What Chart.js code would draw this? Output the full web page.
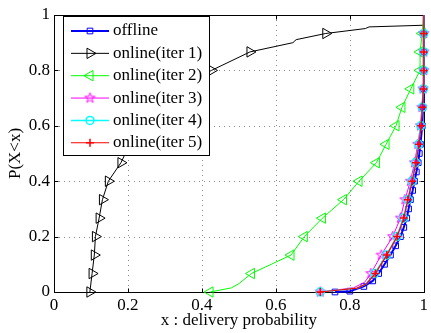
<!DOCTYPE html>
<html>
<head>
<meta charset="utf-8">
<style>
  html, body { margin: 0; padding: 0; background: #fff; }
</style>
<script src="https://cdn.jsdelivr.net/npm/chart.js@4.4.1/dist/chart.umd.min.js"></script>
</head>
<body>
<canvas id="cdfChart" width="431" height="333"></canvas>
<script>
// CDF of delivery probability, steps of 1/15 carry the markers
const offlineX = [0.76, 0.80, 0.838, 0.862, 0.878, 0.894, 0.91, 0.924, 0.937, 0.946, 0.954, 0.959, 0.964, 0.97, 0.975, 0.98, 0.985, 0.988, 0.991, 0.996, 0.998, 1, 1, 1, 1, 1];
const offlineY = [0, 0.003, 0.02, 0.04, 0.0667, 0.1, 0.1333, 0.1667, 0.2, 0.2333, 0.2667, 0.3, 0.3333, 0.3667, 0.4, 0.4333, 0.4667, 0.5, 0.5333, 0.6, 0.6667, 0.7333, 0.8, 0.8667, 0.9333, 1];

const iter1X = [0.097, 0.103, 0.109, 0.112, 0.122, 0.131, 0.147, 0.181, 0.205, 0.235, 0.275, 0.335, 0.426, 0.53, 0.646, 0.655, 0.735, 0.842, 0.852, 0.999, 1];
const iter1Y = [0, 0.0667, 0.1333, 0.2, 0.2667, 0.3333, 0.4, 0.4667, 0.5333, 0.6, 0.6667, 0.7333, 0.8, 0.8667, 0.9, 0.911, 0.9333, 0.951, 0.957, 0.963, 1];

const iter2X = [0.422, 0.48, 0.50, 0.534, 0.641, 0.677, 0.726, 0.783, 0.825, 0.872, 0.898, 0.925, 0.941, 0.965, 0.99, 0.99, 0.996, 1];
const iter2Y = [0, 0.015, 0.03, 0.0667, 0.1333, 0.2, 0.2667, 0.3333, 0.4, 0.4667, 0.5333, 0.6, 0.6667, 0.7333, 0.8, 0.8667, 0.9333, 1];

const iter3X = [0.72, 0.81, 0.84, 0.857, 0.885, 0.916, 0.937, 0.949, 0.964, 0.975, 0.984, 0.991, 0.995, 0.998, 1, 1, 1, 1];
const iter3Y = [0, 0.015, 0.035, 0.0667, 0.1333, 0.2, 0.2667, 0.3333, 0.4, 0.4667, 0.5333, 0.6, 0.6667, 0.7333, 0.8, 0.8667, 0.9333, 1];

const iter4X = [0.72, 0.82, 0.845, 0.867, 0.899, 0.927, 0.945, 0.957, 0.968, 0.978, 0.986, 0.992, 0.996, 0.999, 1, 1, 1, 1];
const iter4Y = [0, 0.014, 0.03, 0.0667, 0.1333, 0.2, 0.2667, 0.3333, 0.4, 0.4667, 0.5333, 0.6, 0.6667, 0.7333, 0.8, 0.8667, 0.9333, 1];

const iter5X = [0.72, 0.82, 0.845, 0.869, 0.9, 0.928, 0.946, 0.957, 0.969, 0.979, 0.987, 0.993, 0.996, 0.999, 1, 1, 1, 1];
const iter5Y = [0, 0.014, 0.03, 0.0667, 0.1333, 0.2, 0.2667, 0.3333, 0.4, 0.4667, 0.5333, 0.6, 0.6667, 0.7333, 0.8, 0.8667, 0.9333, 1];

const seriesLabels = ['offline', 'online(iter 1)', 'online(iter 2)', 'online(iter 3)', 'online(iter 4)', 'online(iter 5)'];
const xTickLabels = ['0', '0.2', '0.4', '0.6', '0.8', '1'];
const yTickLabels = ['0', '0.2', '0.4', '0.6', '0.8', '1'];

const FONT = 'Liberation Serif';
Chart.defaults.font.family = FONT;
Chart.defaults.font.size = 17;
Chart.defaults.color = '#000';

function toPoints(xs, ys) {
  return xs.map((x, i) => ({ x: x, y: ys[i] }));
}

// marker only on the 1/15 steps (not on the final 1)
function onStep(ctx, r) {
  const y = ctx.raw ? ctx.raw.y : 0;
  const k = y * 15;
  return (y < 1 && Math.abs(k - Math.round(k)) < 0.05) ? r : 0;
}

function makeStar(color) {
  const c = document.createElement('canvas');
  c.width = 13;
  c.height = 13;
  const g = c.getContext('2d');
  g.strokeStyle = color;
  g.lineWidth = 1;
  g.beginPath();
  for (let i = 0; i < 10; i++) {
    const r = i % 2 ? 2.1 : 5.3;
    const a = -Math.PI / 2 + i * Math.PI / 5;
    const px = 6.5 + r * Math.cos(a), py = 6.5 + r * Math.sin(a);
    if (i) g.lineTo(px, py); else g.moveTo(px, py);
  }
  g.closePath();
  g.stroke();
  return c;
}
const star = makeStar('#ff00ff');

const none = 'rgba(0,0,0,0)';

const boxPlugin = {
  id: 'matlabBox',
  beforeDatasetsDraw(chart) {
    const { ctx, chartArea: a, scales } = chart;
    const xs = scales.x, ys = scales.y;
    ctx.save();
    // dotted grid
    ctx.strokeStyle = '#8a8a8a';
    ctx.lineWidth = 1;
    ctx.setLineDash([1, 4]);
    xs.ticks.forEach(t => {
      if (t.value <= 0 || t.value >= 1) return;
      const px = Math.round(xs.getPixelForValue(t.value)) + 0.5;
      ctx.beginPath(); ctx.moveTo(px, a.top); ctx.lineTo(px, a.bottom); ctx.stroke();
    });
    ys.ticks.forEach(t => {
      if (t.value <= 0 || t.value >= 1) return;
      const py = Math.round(ys.getPixelForValue(t.value)) + 0.5;
      ctx.beginPath(); ctx.moveTo(a.left, py); ctx.lineTo(a.right, py); ctx.stroke();
    });
    ctx.setLineDash([]);
    // box and inward ticks
    ctx.strokeStyle = '#000';
    const l = Math.round(a.left) + 0.5, r = Math.round(a.right) + 0.5;
    const t0 = Math.round(a.top) + 0.5, b = Math.round(a.bottom) + 0.5;
    ctx.strokeRect(l, t0, r - l, b - t0);
    ctx.beginPath();
    xs.ticks.forEach(t => {
      const px = Math.round(xs.getPixelForValue(t.value)) + 0.5;
      ctx.moveTo(px, b); ctx.lineTo(px, b - 4);
      ctx.moveTo(px, t0); ctx.lineTo(px, t0 + 4);
    });
    ys.ticks.forEach(t => {
      const py = Math.round(ys.getPixelForValue(t.value)) + 0.5;
      ctx.moveTo(l, py); ctx.lineTo(l + 4, py);
      ctx.moveTo(r, py); ctx.lineTo(r - 4, py);
    });
    ctx.stroke();
    ctx.restore();
  },
  afterDatasetsDraw(chart) {
    const ctx = chart.ctx;
    ctx.save();
    ctx.fillStyle = '#fff';
    ctx.fillRect(63.5, 16.5, 146, 139);
    ctx.strokeStyle = '#000';
    ctx.lineWidth = 1;
    ctx.strokeRect(63.5, 16.5, 146, 139);
    chart.data.datasets.forEach((ds, i) => {
      const y = 31 + i * 22.35;
      ctx.strokeStyle = ds.borderColor;
      ctx.lineWidth = ds.borderWidth;
      ctx.beginPath();
      ctx.moveTo(71, y);
      ctx.lineTo(109, y);
      ctx.stroke();
      ctx.fillStyle = none;
      ctx.lineWidth = ds.pointBorderWidth;
      Chart.helpers.drawPoint(ctx, {
        pointStyle: ds.pointStyle,
        rotation: ds.pointRotation || 0,
        radius: ds.legendRadius,
        borderWidth: ds.pointBorderWidth
      }, 90, y);
      ctx.fillStyle = '#000';
      ctx.font = '17px "' + FONT + '"';
      ctx.textBaseline = 'middle';
      ctx.textAlign = 'left';
      ctx.fillText(seriesLabels[i], 113, y);
    });
    ctx.restore();
  }
};

const chart = new Chart(document.getElementById('cdfChart'), {
  type: 'line',
  data: {
    datasets: [{
      label: seriesLabels[0],
      data: toPoints(offlineX, offlineY),
      borderColor: '#0000ff',
      borderWidth: 2,
      pointStyle: 'rect',
      pointRadius: ctx => (ctx.raw && ctx.raw.y < 1 ? 4 : 0),
      legendRadius: 4,
      pointBorderWidth: 1,
      pointBorderColor: '#0000ff',
      pointBackgroundColor: none,
      order: 6
    }, {
      label: seriesLabels[1],
      data: toPoints(iter1X, iter1Y),
      borderColor: '#000000',
      borderWidth: 1,
      pointStyle: 'triangle',
      pointRotation: 90,
      pointRadius: ctx => onStep(ctx, 6),
      legendRadius: 6,
      pointBorderWidth: 1,
      pointBorderColor: '#000000',
      pointBackgroundColor: none,
      order: 5
    }, {
      label: seriesLabels[2],
      data: toPoints(iter2X, iter2Y),
      borderColor: '#00ff00',
      borderWidth: 1,
      pointStyle: 'triangle',
      pointRotation: 270,
      pointRadius: ctx => onStep(ctx, 6),
      legendRadius: 6,
      pointBorderWidth: 1,
      pointBorderColor: '#00ff00',
      pointBackgroundColor: none,
      order: 4
    }, {
      label: seriesLabels[3],
      data: toPoints(iter3X, iter3Y),
      borderColor: '#ff00ff',
      borderWidth: 1,
      pointStyle: star,
      pointRadius: ctx => onStep(ctx, 5),
      legendRadius: 5,
      pointBorderWidth: 1,
      pointBorderColor: '#ff00ff',
      pointBackgroundColor: none,
      order: 3
    }, {
      label: seriesLabels[4],
      data: toPoints(iter4X, iter4Y),
      borderColor: '#00ffff',
      borderWidth: 1.5,
      pointStyle: 'circle',
      pointRadius: ctx => onStep(ctx, 4),
      legendRadius: 4,
      pointBorderWidth: 1.5,
      pointBorderColor: '#00ffff',
      pointBackgroundColor: none,
      order: 2
    }, {
      label: seriesLabels[5],
      data: toPoints(iter5X, iter5Y),
      borderColor: '#ff0000',
      borderWidth: 1.2,
      pointStyle: 'cross',
      pointRadius: ctx => onStep(ctx, 4),
      legendRadius: 4,
      pointBorderWidth: 1.5,
      pointBorderColor: '#ff0000',
      pointBackgroundColor: none,
      order: 1
    }]
  },
  options: {
    responsive: false,
    animation: false,
    events: [],
    layout: { padding: { top: 15, right: 4, left: 0, bottom: 0 } },
    elements: { line: { tension: 0 } },
    datasets: { line: { clip: false } },
    plugins: {
      legend: { display: false },
      tooltip: { enabled: false }
    },
    scales: {
      x: {
        type: 'linear',
        min: 0,
        max: 1,
        grid: { display: false, drawTicks: false },
        border: { display: false },
        ticks: {
          stepSize: 0.2,
          padding: 3,
          maxRotation: 0,
          callback: (v) => xTickLabels[Math.round(v * 5)]
        },
        title: {
          display: true,
          text: 'x : delivery probability',
          padding: { top: 0, bottom: 2 }
        },
        afterFit: (s) => { s.height = 41; }
      },
      y: {
        type: 'linear',
        min: 0,
        max: 1,
        grid: { display: false, drawTicks: false },
        border: { display: false },
        ticks: {
          stepSize: 0.2,
          padding: 4,
          callback: (v) => yTickLabels[Math.round(v * 5)]
        },
        title: {
          display: true,
          text: 'P(X<x)',
          padding: { top: 5, bottom: 0 }
        },
        afterFit: (s) => { s.width = 54; }
      }
    }
  },
  plugins: [boxPlugin]
});
</script>
</body>
</html>
